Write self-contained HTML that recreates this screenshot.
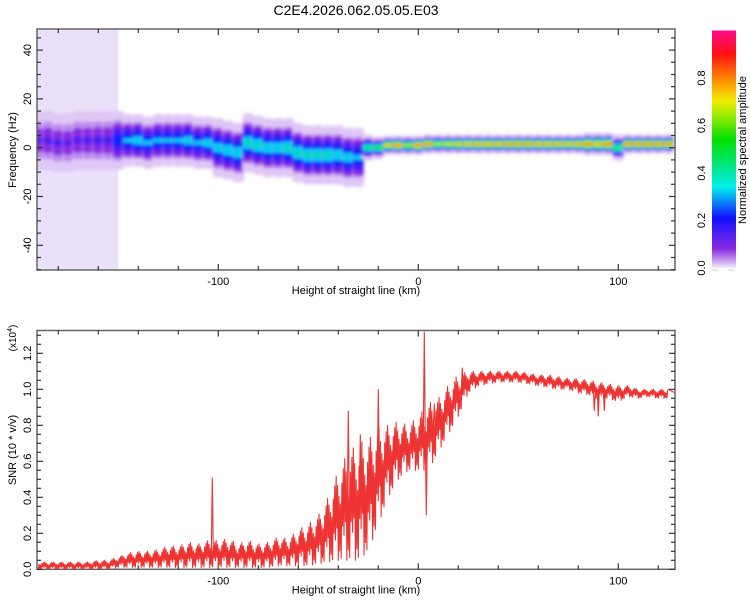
<!DOCTYPE html>
<html><head><meta charset="utf-8"><style>
body{margin:0;background:#fff;}
svg{display:block;font-family:"Liberation Sans",sans-serif;}
</style></head><body>
<svg id="chart" width="750" height="600" viewBox="0 0 750 600">
<defs>
<filter id="blur" x="-5%" y="-5%" width="110%" height="110%"><feGaussianBlur stdDeviation="1.6"/></filter>
<linearGradient id="cbar" x1="0" y1="1" x2="0" y2="0">
<stop offset="0" stop-color="#f4eefc"/><stop offset="0.03" stop-color="#c9a0f0"/><stop offset="0.08" stop-color="#8a2be2"/>
<stop offset="0.21" stop-color="#1010ff"/><stop offset="0.34" stop-color="#00eeee"/><stop offset="0.54" stop-color="#00e000"/>
<stop offset="0.7" stop-color="#f0f000"/><stop offset="0.78" stop-color="#ff9900"/><stop offset="0.9" stop-color="#ff1010"/>
<stop offset="1" stop-color="#ff0a8a"/></linearGradient>
<clipPath id="clipTop"><rect x="37" y="29" width="638" height="241"/></clipPath>
<clipPath id="clipBot"><rect x="37" y="330" width="638" height="239"/></clipPath>
</defs>
<text x="356" y="15" font-size="14" text-anchor="middle">C2E4.2026.062.05.05.E03</text>
<g id="top"></g>
<g id="bot"></g>
<g id="cb"></g>
</svg>
<script>
// ---- data ----
const colX = [-190,-185,-180,-175,-170,-165,-160,-155,-150,-145,-140,-135,-130,-125,-120,-115,-110,-105,-100,-95,-90,-85,-80,-75,-70,-65,-60,-55,-50,-45,-40,-35,-30,-25,-20,-15,-10,-5,0,5,10,15,20,25,30,35,40,45,50,55,60,65,70,75,80,85,90,95,100,105,110,115,120,125];
const colCenter = [3,3,2,2,3,3,3,3,3,3,3,2,3,3,3,3,2,2,0,-1,-2,2,1,0,0,0,-2,-3,-3,-3,-3,-4,-4,0,0,1,1,1,1,1.5,1.5,1.5,1.5,1.5,1.5,1.5,1.5,1.5,1.5,1.5,1.5,1.5,1.5,1.5,1.5,1.5,1.5,1.5,0,1.5,1.5,1.5,1.5,1.5];
const colHalfWidth = [9,9,9,9,9,9,9,9,9,8,8,8,8,8,8,8,8,8,9,9,9,9,9,9,9,9,9,9,9,9,9,9,9,4,3.5,3,3,3,3,3,3,3,3,3,3,3,3,3,3,3,3,3,3,3,3,3.5,3.5,3.5,4,3,3,3,3,3];
const colPeak = [0.14,0.15,0.15,0.14,0.15,0.15,0.16,0.16,0.3,0.35,0.4,0.35,0.35,0.35,0.35,0.4,0.35,0.4,0.4,0.42,0.42,0.45,0.45,0.42,0.42,0.45,0.45,0.45,0.45,0.45,0.42,0.4,0.35,0.55,0.6,0.85,0.95,0.75,0.95,0.95,0.75,0.8,0.85,0.88,0.9,0.9,0.9,0.92,0.92,0.92,0.9,0.9,0.9,0.88,0.9,0.95,0.88,0.95,0.6,0.95,0.95,0.95,0.95,0.95];
const noiseX = [-190,-150];
const snrX = [-190,-185,-180,-175,-170,-165,-160,-155,-150,-145,-140,-135,-130,-125,-120,-115,-110,-105,-100,-95,-90,-85,-80,-75,-70,-65,-60,-55,-50,-45,-40,-35,-30,-25,-20,-15,-10,-5,0,5,10,15,20,25,30,35,40,45,50,55,60,65,70,75,80,85,90,95,100,105,110,115,120,125];
const snrLo = [0,0,0,0,0,0,0,0,.01,.01,.01,.01,.01,.01,.01,.01,.01,.01,.01,.01,.01,.01,.01,.01,.02,.02,.02,.02,.03,.04,.05,.05,.05,.10,.25,.40,.50,.55,.55,.55,.65,.75,.85,.98,1.02,1.03,1.04,1.04,1.04,1.03,1.02,1.01,1.00,1.00,.98,.97,.94,.95,.93,.96,.95,.96,.95,.95];
const snrHi = [.04,.04,.04,.04,.04,.04,.05,.05,.07,.09,.10,.10,.11,.13,.13,.15,.14,.16,.16,.17,.14,.16,.14,.15,.18,.17,.22,.25,.30,.40,.55,.65,.70,.72,.78,.80,.82,.80,.85,.92,.95,1.02,1.08,1.10,1.10,1.10,1.10,1.10,1.10,1.09,1.08,1.08,1.07,1.06,1.06,1.05,1.04,1.03,1.02,1.02,1.00,1.00,1.00,1.00];
const spikeX = [-103,-35,-29,-20,-12,3,4,8,22,88,90,93];
const spikeV = [0.51,0.88,0.75,1.0,0.72,1.32,0.30,0.92,1.12,0.88,0.85,0.88];
const xTicks = [-100,0,100];
const freqTicks = [-40,-20,0,20,40];
const snrTicks = [0.0,0.2,0.4,0.6,0.8,1.0,1.2];
const cbTicks = [0.0,0.2,0.4,0.6,0.8];

// ---- scales ----
const NS='http://www.w3.org/2000/svg';
const X0=37,X1=675;
const xs = v => 418.3 + v*2.0;
const fy = f => 147.7 - f*2.44;
const sy = v => 569.3 - v*180;
const cby = v => 268 - v*237.5;
function mk(tag,attrs,parent){const e=document.createElementNS(NS,tag);for(const k in attrs)e.setAttribute(k,attrs[k]);parent.appendChild(e);return e;}
function cmap(t){
 const st=[[0,[244,238,252]],[0.03,[201,160,240]],[0.08,[138,43,226]],[0.21,[16,16,255]],[0.34,[0,238,238]],[0.54,[0,224,0]],[0.7,[240,240,0]],[0.78,[255,153,0]],[0.9,[255,16,16]],[1,[255,10,138]]];
 for(let i=1;i<st.length;i++){if(t<=st[i][0]){const a=st[i-1],b=st[i];const u=(t-a[0])/(b[0]-a[0]);const c=a[1].map((v,j)=>Math.round(v+(b[1][j]-v)*u));return `rgb(${c.join(',')})`;}}
 return 'rgb(255,10,138)';
}
const topG=document.getElementById('top'), botG=document.getElementById('bot'), cbG=document.getElementById('cb');

// ---- spectrogram ----
const spec=mk('g',{'clip-path':'url(#clipTop)'},topG);


const noise=mk('rect',{x:xs(noiseX[0])-5,y:29,width:xs(noiseX[1])-xs(noiseX[0])+5,height:241,fill:'#ebe0f9'},spec);


const sg=mk('g',{filter:'url(#blur)'},spec);
const levels=[0.02,0.06,0.12,0.2,0.3,0.42,0.55,0.68,0.8,0.9];
colX.forEach((x,i)=>{
 const p=colPeak[i],c=colCenter[i],hw=colHalfWidth[i];
 const h0=hw*1.35;
 const r=mk('rect',{x:xs(x)-6,y:fy(c+h0),width:12,height:fy(c-h0)-fy(c+h0),fill:cmap(0.015),rx:4},sg);
 
 
 levels.forEach(t=>{
  if(t>=p) return;
  const h=hw*Math.pow(1-t/p,1.1);
  const e=mk('rect',{x:xs(x)-5.5,y:fy(c+h),width:11,height:fy(c-h)-fy(c+h),fill:cmap(t+0.02),rx:3},sg);
  
  
 });
});

// ---- axes helper ----
function frame(g,y0,y1){
 mk('rect',{x:X0,y:y0,width:X1-X0,height:y1-y0,fill:'none',stroke:'#666','stroke-width':1.5},g);
 for(let v=-180;v<=120;v+=20){
  const major=xTicks.includes(v);const L=major?6:4;
  mk('line',{x1:xs(v),x2:xs(v),y1:y0,y2:y0+L,stroke:'#333','stroke-width':1.2},g);
  mk('line',{x1:xs(v),x2:xs(v),y1:y1,y2:y1-L,stroke:'#333','stroke-width':1.2},g);
 }
 xTicks.forEach(v=>{
  const t=mk('text',{x:xs(v),y:y1+15,'font-size':11,'text-anchor':'middle'},g);t.textContent=v;
  
  
 });
 const xl=mk('text',{x:356,y:y1+24,'font-size':11,'text-anchor':'middle'},g);xl.textContent='Height of straight line (km)';
 
 
}
frame(topG,29,270);
for(let f=-50;f<=45;f+=5){
 const major=freqTicks.includes(f);const L=major?6:4;
 mk('line',{x1:X0,x2:X0+L,y1:fy(f),y2:fy(f),stroke:'#333','stroke-width':1.2},topG);
 mk('line',{x1:X1,x2:X1-L,y1:fy(f),y2:fy(f),stroke:'#333','stroke-width':1.2},topG);
}
freqTicks.forEach(f=>{
 const t=mk('text',{x:0,y:0,'font-size':11,'text-anchor':'middle',transform:`translate(31,${fy(f)}) rotate(-90)`},topG);t.textContent=f;
 
 
});
const fyl=mk('text',{x:0,y:0,'font-size':11,'text-anchor':'middle',transform:'translate(16,150) rotate(-90)'},topG);fyl.textContent='Frequency (Hz)';



// ---- SNR ----
frame(botG,330.5,569.3);
for(let k=0;k<=26;k++){
 const v=k*0.05;const major=k%4===0;const L=major?6:4;
 mk('line',{x1:X0,x2:X0+L,y1:sy(v),y2:sy(v),stroke:'#333','stroke-width':1.2},botG);
 mk('line',{x1:X1,x2:X1-L,y1:sy(v),y2:sy(v),stroke:'#333','stroke-width':1.2},botG);
}
snrTicks.forEach(v=>{
 const t=mk('text',{x:0,y:0,'font-size':11,'text-anchor':'middle',transform:`translate(31,${sy(v)}) rotate(-90)`},botG);t.textContent=v.toFixed(1);
 
 
});
const syl=mk('text',{x:0,y:0,'font-size':11,'text-anchor':'middle',transform:'translate(16,450) rotate(-90)'},botG);syl.textContent='SNR (10 * v/v)';


const sc=mk('text',{x:0,y:0,'font-size':10,'text-anchor':'middle',transform:'translate(16,338) rotate(-90)'},botG);


const t1=mk('tspan',{},sc);t1.textContent='(x10';
const t2=mk('tspan',{dy:'-4','font-size':'7'},sc);t2.textContent='4';
const t3=mk('tspan',{dy:'4'},sc);t3.textContent=')';
const lg=mk('g',{'clip-path':'url(#clipBot)'},botG);
let pts=[];
const SUB=14;
const wPattern=[1,0.4,0.8,0.2,0.95,0.6,0.3,0.85,0.5,1,0.25,0.7];
for(let i=0;i<snrX.length-1;i++){
 for(let s=0;s<SUB;s++){
  const u=s/SUB;const x=snrX[i]+(snrX[i+1]-snrX[i])*u;
  const lo=snrLo[i]+(snrLo[i+1]-snrLo[i])*u, hi=snrHi[i]+(snrHi[i+1]-snrHi[i])*u;
  const w=wPattern[(i*SUB+s)%wPattern.length];
  const mid=(lo+hi)/2;
  const v=(s%2===0)?mid-(mid-lo)*w:mid+(hi-mid)*w;
  pts.push([xs(x),sy(v)]);
 }
}
pts.push([xs(snrX[snrX.length-1]),sy(snrHi[snrHi.length-1])]);
pts.push([X1+3,sy(0.97)]);
const line=mk('polyline',{points:pts.map(p=>p.join(',')).join(' '),fill:'none',stroke:'#ee3333','stroke-width':1.1,'stroke-linejoin':'round'},lg);


spikeX.forEach((x,i)=>{
 let j=0;while(j<snrX.length-2&&snrX[j+1]<x)j++;
 const u=(x-snrX[j])/(snrX[j+1]-snrX[j]);
 const mid=(snrLo[j]+snrHi[j])/2*(1-u)+(snrLo[j+1]+snrHi[j+1])/2*u;
 const sp=mk('polyline',{points:`${xs(x)-1},${sy(mid)} ${xs(x)},${sy(spikeV[i])} ${xs(x)+1},${sy(mid)}`,fill:'none',stroke:'#ee3333','stroke-width':1.1},lg);
 
 
});

// ---- colorbar ----
const cr=mk('rect',{x:712,y:cby(1),width:24,height:cby(0)-cby(1),fill:'url(#cbar)'},cbG);


cbTicks.forEach(v=>{
 const t=mk('text',{x:0,y:0,'font-size':11,'text-anchor':'middle',transform:`translate(705,${cby(v)}) rotate(-90)`},cbG);t.textContent=v.toFixed(1);
 
 
});
mk('line',{x1:712,x2:718,y1:270,y2:270,stroke:'#ccc'},cbG);
mk('line',{x1:728,x2:734,y1:270,y2:270,stroke:'#ccc'},cbG);
const ct=mk('text',{x:0,y:0,'font-size':11,'text-anchor':'middle',transform:'translate(746,150) rotate(-90)'},cbG);ct.textContent='Normalized spectral amplitude';


</script>
</body></html>
